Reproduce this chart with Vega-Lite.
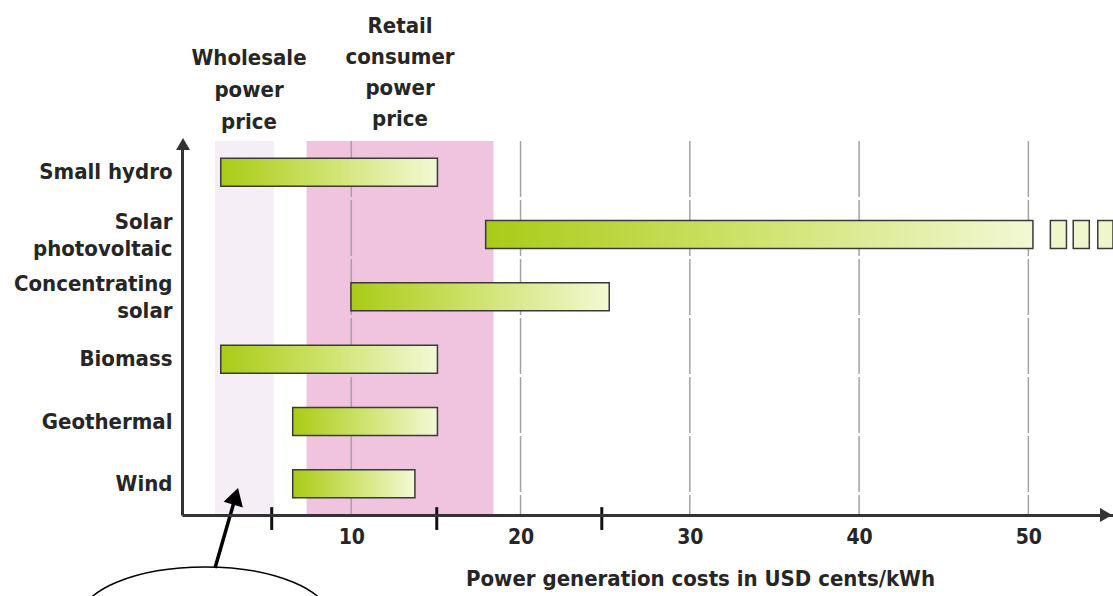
{
  "$schema": "https://vega.github.io/schema/vega-lite/v6.json",
  "width": 931,
  "height": 374,
  "autosize": {"type": "none"},
  "padding": {"left": 182, "top": 141, "right": 0, "bottom": 81},
  "background": "white",
  "config": {"view": {"stroke": null}, "font": "DejaVu Sans Condensed"},
  "datasets": {
    "bands": [
      {"band": "Wholesale power price", "lo": 1.94, "hi": 5.42},
      {"band": "Retail consumer power price", "lo": 7.36, "hi": 18.4}
    ],
    "grid": [{"v": 10}, {"v": 20}, {"v": 30}, {"v": 40}, {"v": 50}],
    "bars": [
      {"tech": "Small hydro", "lo": 2.29, "hi": 15.09},
      {"tech": "Solar photovoltaic", "lo": 17.94, "hi": 50.27},
      {"tech": "Concentrating solar", "lo": 9.98, "hi": 25.24},
      {"tech": "Biomass", "lo": 2.29, "hi": 15.09},
      {"tech": "Geothermal", "lo": 6.54, "hi": 15.09},
      {"tech": "Wind", "lo": 6.54, "hi": 13.76}
    ],
    "cont": [
      {"tech": "Solar photovoltaic", "lo": 51.3, "hi": 52.25},
      {"tech": "Solar photovoltaic", "lo": 52.65, "hi": 53.6},
      {"tech": "Solar photovoltaic", "lo": 54.1, "hi": 55}
    ],
    "ticks": [{"v": 5.3}, {"v": 15.05}, {"v": 24.8}]
  },
  "layer": [
    {
      "data": {"name": "bands"},
      "mark": {"type": "rect", "opacity": 1},
      "encoding": {
        "x": {"field": "lo", "type": "quantitative", "scale": {"domain": [0, 55], "nice": false, "zero": false}},
        "x2": {"field": "hi"},
        "color": {"field": "band", "type": "nominal", "legend": null,
          "scale": {"domain": ["Wholesale power price", "Retail consumer power price"], "range": ["#f6eef6", "#f0c3df"]}}
      }
    },
    {
      "data": {"name": "grid"},
      "mark": {"type": "rule", "color": "#a3a3a3", "strokeWidth": 1.5, "strokeDash": [56, 3]},
      "encoding": {
        "x": {"field": "v", "type": "quantitative", "scale": {"domain": [0, 55], "nice": false, "zero": false}}
      }
    },
    {
      "data": {"name": "bars"},
      "mark": {"type": "bar", "height": 28, "stroke": "#3a3a3a", "strokeWidth": 1.5,
        "fill": {"gradient": "linear", "x1": 0, "y1": 0, "x2": 1, "y2": 0,
          "stops": [{"offset": 0, "color": "#a9cb16"}, {"offset": 0.5, "color": "#cfe36f"}, {"offset": 1, "color": "#f3f8d4"}]}},
      "encoding": {
        "y": {"field": "tech", "type": "nominal",
          "sort": ["Small hydro", "Solar photovoltaic", "Concentrating solar", "Biomass", "Geothermal", "Wind"],
          "scale": {"domain": ["Small hydro", "Solar photovoltaic", "Concentrating solar", "Biomass", "Geothermal", "Wind"], "paddingInner": 0, "paddingOuter": 0},
          "axis": {"title": null, "ticks": false, "grid": false, "domainColor": "#333333", "domainWidth": 3,
            "labelFont": "DejaVu Sans Condensed", "labelFontSize": 22, "labelFontWeight": "bold", "labelColor": "#262626", "labelPadding": 10,
            "labelAlign": "right", "labelBaseline": "middle", "labelLineHeight": 27, "labelLimit": 400, "zindex": 1,
            "labelOffset": {"condition": {"test": "indexof(['Solar photovoltaic', 'Concentrating solar'], datum.value) >= 0", "value": -13}, "value": 0},
            "labelExpr": "datum.value == 'Solar photovoltaic' ? ['Solar', 'photovoltaic'] : datum.value == 'Concentrating solar' ? ['Concentrating', 'solar'] : datum.label"}
        },
        "x": {"field": "lo", "type": "quantitative", "scale": {"domain": [0, 55], "nice": false, "zero": false},
          "axis": {"values": [10, 20, 30, 40, 50], "title": "Power generation costs in USD cents/kWh", "ticks": false, "grid": false,
            "domainColor": "#333333", "domainWidth": 3, "zindex": 1,
            "labelFont": "DejaVu Sans Condensed", "labelFontSize": 21, "labelFontWeight": "bold", "labelColor": "#262626", "labelPadding": 11,
            "titleFont": "DejaVu Sans Condensed", "titleFontSize": 22, "titleFontWeight": "bold", "titleColor": "#262626",
            "titleX": 518, "titleY": 70, "titleAlign": "center", "titleBaseline": "alphabetic"}
        },
        "x2": {"field": "hi"}
      }
    },
    {
      "data": {"name": "cont"},
      "mark": {"type": "bar", "height": 28, "stroke": "#3a3a3a", "strokeWidth": 1.5, "fill": "#eff6cc"},
      "encoding": {
        "y": {"field": "tech", "type": "nominal",
          "scale": {"domain": ["Small hydro", "Solar photovoltaic", "Concentrating solar", "Biomass", "Geothermal", "Wind"], "paddingInner": 0, "paddingOuter": 0},
          "axis": null},
        "x": {"field": "lo", "type": "quantitative", "scale": {"domain": [0, 55], "nice": false, "zero": false}},
        "x2": {"field": "hi"}
      }
    },
    {
      "data": {"name": "ticks"},
      "mark": {"type": "rule", "color": "#111111", "strokeWidth": 3},
      "encoding": {
        "x": {"field": "v", "type": "quantitative", "scale": {"domain": [0, 55], "nice": false, "zero": false}},
        "y": {"datum": 0.021, "type": "quantitative", "scale": {"domain": [0, 1], "nice": false, "zero": false}, "axis": null},
        "y2": {"datum": -0.04}
      }
    },
    {
      "data": {"values": [{"p": 1}]},
      "mark": {"type": "point", "shape": "triangle-up", "filled": true, "color": "#333333", "size": 196, "opacity": 1},
      "encoding": {
        "x": {"datum": 0.06, "type": "quantitative", "scale": {"domain": [0, 55], "nice": false, "zero": false}},
        "y": {"datum": 0.992, "type": "quantitative", "scale": {"domain": [0, 1], "nice": false, "zero": false}, "axis": null}
      }
    },
    {
      "data": {"values": [{"p": 1}]},
      "mark": {"type": "point", "shape": "triangle-right", "filled": true, "color": "#333333", "size": 196, "opacity": 1},
      "encoding": {
        "x": {"datum": 54.59, "type": "quantitative", "scale": {"domain": [0, 55], "nice": false, "zero": false}},
        "y": {"datum": 0, "type": "quantitative", "scale": {"domain": [0, 1], "nice": false, "zero": false}, "axis": null}
      }
    },
    {
      "data": {"values": [{"p": 1}]},
      "mark": {"type": "point", "shape": "M -1 0 A 1 0.416 0 1 1 1 0 A 1 0.416 0 1 1 -1 0 Z", "filled": false, "color": "#000000", "strokeWidth": 1.5, "size": 62500, "opacity": 1},
      "encoding": {
        "x": {"datum": 1.36, "type": "quantitative", "scale": {"domain": [0, 55], "nice": false, "zero": false}},
        "y": {"datum": -0.278, "type": "quantitative", "scale": {"domain": [0, 1], "nice": false, "zero": false}, "axis": null}
      }
    },
    {
      "data": {"values": [{"p": 1}]},
      "mark": {"type": "rule", "color": "#000000", "strokeWidth": 3.5},
      "encoding": {
        "x": {"datum": 1.95, "type": "quantitative", "scale": {"domain": [0, 55], "nice": false, "zero": false}},
        "y": {"datum": -0.142, "type": "quantitative", "scale": {"domain": [0, 1], "nice": false, "zero": false}, "axis": null},
        "x2": {"datum": 3.17},
        "y2": {"datum": 0.05}
      }
    },
    {
      "data": {"values": [{"p": 1}]},
      "mark": {"type": "point", "shape": "triangle-up", "filled": true, "color": "#000000", "size": 400, "angle": 16, "opacity": 1},
      "encoding": {
        "x": {"datum": 3.17, "type": "quantitative", "scale": {"domain": [0, 55], "nice": false, "zero": false}},
        "y": {"datum": 0.05, "type": "quantitative", "scale": {"domain": [0, 1], "nice": false, "zero": false}, "axis": null}
      }
    },
    {
      "data": {"values": [{"p": 1}]},
      "mark": {"type": "text", "text": ["Wholesale", "power", "price"], "font": "DejaVu Sans Condensed", "fontSize": 22, "fontWeight": "bold", "lineHeight": 32, "align": "center", "baseline": "alphabetic", "color": "#262626"},
      "encoding": {
        "x": {"datum": 3.96, "type": "quantitative", "scale": {"domain": [0, 55], "nice": false, "zero": false}},
        "y": {"datum": 1.203, "type": "quantitative", "scale": {"domain": [0, 1], "nice": false, "zero": false}, "axis": null}
      }
    },
    {
      "data": {"values": [{"p": 1}]},
      "mark": {"type": "text", "text": ["Retail", "consumer", "power", "price"], "font": "DejaVu Sans Condensed", "fontSize": 22, "fontWeight": "bold", "lineHeight": 31, "align": "center", "baseline": "alphabetic", "color": "#262626"},
      "encoding": {
        "x": {"datum": 12.88, "type": "quantitative", "scale": {"domain": [0, 55], "nice": false, "zero": false}},
        "y": {"datum": 1.289, "type": "quantitative", "scale": {"domain": [0, 1], "nice": false, "zero": false}, "axis": null}
      }
    }
  ],
  "resolve": {"scale": {"y": "independent"}}
}
